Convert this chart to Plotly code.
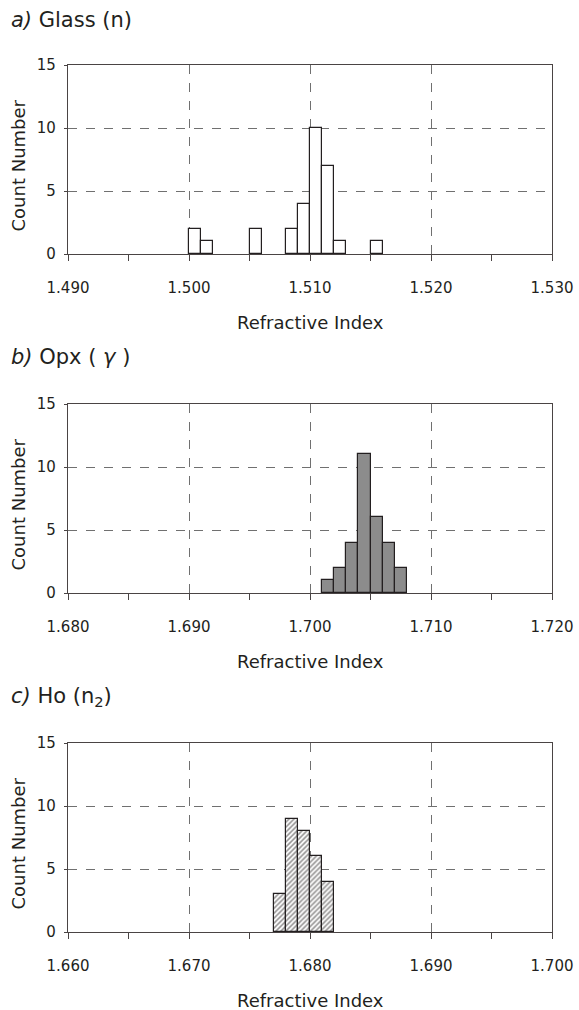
import plotly.graph_objects as go

# ---- data ----
glass_bins = [1.500, 1.501, 1.505, 1.508, 1.509, 1.510, 1.511, 1.512, 1.515]
glass_counts = [2, 1, 2, 2, 4, 10, 7, 1, 1]
opx_bins = [1.701, 1.702, 1.703, 1.704, 1.705, 1.706, 1.707]
opx_counts = [1, 2, 4, 11, 6, 4, 2]
ho_bins = [1.677, 1.678, 1.679, 1.680, 1.681]
ho_counts = [3, 9, 8, 6, 4]
bin_width = 0.001

x_ranges = [[1.490, 1.530], [1.680, 1.720], [1.660, 1.700]]
y_range = [0, 15]
y_ticks = [0, 5, 10, 15]
panel_titles = ["<i>a)</i> Glass (n)", "<i>b)</i> Opx ( <i>γ</i> )", "<i>c)</i> Ho (n<sub>2</sub>)"]
x_title = "Refractive Index"
y_title = "Count Number"

# ---- layout geometry (px) ----
W, H = 579, 1010
left, right = 68, 552
tops = [65, 404, 743]
bottoms = [254, 593, 932]
title_y = [20, 357, 697]
FONT = "DejaVu Sans"
INK = "#231f20"
AX = "#4a4444"
GRID = "#707070"

def px_x(p):
    return p / W

def px_y(p):
    return 1 - p / H

fig = go.Figure()

bar_line = dict(color=INK, width=1.2)
fig.add_trace(go.Bar(x=glass_bins, y=glass_counts, width=bin_width, offset=0,
                     marker=dict(color="white", line=bar_line),
                     xaxis="x", yaxis="y", showlegend=False))
fig.add_trace(go.Bar(x=opx_bins, y=opx_counts, width=bin_width, offset=0,
                     marker=dict(color="#8c8c8c", line=bar_line),
                     xaxis="x2", yaxis="y2", showlegend=False))
fig.add_trace(go.Bar(x=ho_bins, y=ho_counts, width=bin_width, offset=0,
                     marker=dict(color="white", line=bar_line,
                                 pattern=dict(shape="/", fgcolor=INK, bgcolor="white",
                                              size=3.5, solidity=0.45)),
                     xaxis="x3", yaxis="y3", showlegend=False))

annotations = []
for i in range(3):
    sfx = "" if i == 0 else str(i + 1)
    xa = dict(
        domain=[px_x(left), px_x(right)],
        range=x_ranges[i],
        anchor="y" + sfx,
        dtick=0.01, tick0=x_ranges[i][0], tickformat=".3f",
        ticks="outside", ticklen=6, tickcolor=AX, tickwidth=1.2,
        ticklabelstandoff=14,
        showgrid=True, gridcolor=GRID, griddash="dash", gridwidth=1,
        minor=dict(dtick=0.005, ticks="outside", ticklen=6, tickcolor=AX,
                   tickwidth=1.2, showgrid=False),
        showline=True, linecolor=AX, linewidth=1.3, mirror=True,
        zeroline=False, automargin=False, fixedrange=True,
        tickfont=dict(family=FONT, size=15, color=INK),
    )
    ya = dict(
        domain=[px_y(bottoms[i]), px_y(tops[i])],
        range=y_range,
        anchor="x" + sfx,
        tickvals=y_ticks,
        ticks="outside", ticklen=3, tickcolor=AX, tickwidth=1.2,
        ticklabelstandoff=5,
        showgrid=True, gridcolor=GRID, griddash="dash", gridwidth=1,
        showline=True, linecolor=AX, linewidth=1.3, mirror=True,
        zeroline=False, automargin=False, fixedrange=True,
        tickfont=dict(family=FONT, size=15, color=INK),
    )
    fig.layout["xaxis" + sfx] = xa
    fig.layout["yaxis" + sfx] = ya

    annotations.append(dict(text=panel_titles[i], x=px_x(9), y=px_y(title_y[i]),
                            xref="paper", yref="paper", xanchor="left", yanchor="middle",
                            showarrow=False, font=dict(family=FONT, size=21, color=INK)))
    annotations.append(dict(text=x_title, x=px_x((left + right) / 2), y=px_y(bottoms[i] + 68),
                            xref="paper", yref="paper", xanchor="center", yanchor="middle",
                            showarrow=False, font=dict(family=FONT, size=18, color=INK)))
    annotations.append(dict(text=y_title, x=px_x(18), y=px_y((tops[i] + bottoms[i]) / 2 + 6),
                            xref="paper", yref="paper", xanchor="center", yanchor="middle",
                            textangle=-90,
                            showarrow=False, font=dict(family=FONT, size=18, color=INK)))

fig.update_layout(
    width=W, height=H,
    margin=dict(l=0, r=0, t=0, b=0),
    paper_bgcolor="white", plot_bgcolor="white",
    annotations=annotations,
    bargap=0,
    showlegend=False,
)

fig.write_html("out.html", config={"displayModeBar": False},
               post_script="document.body.style.margin='0px';document.body.style.overflow='hidden';")
